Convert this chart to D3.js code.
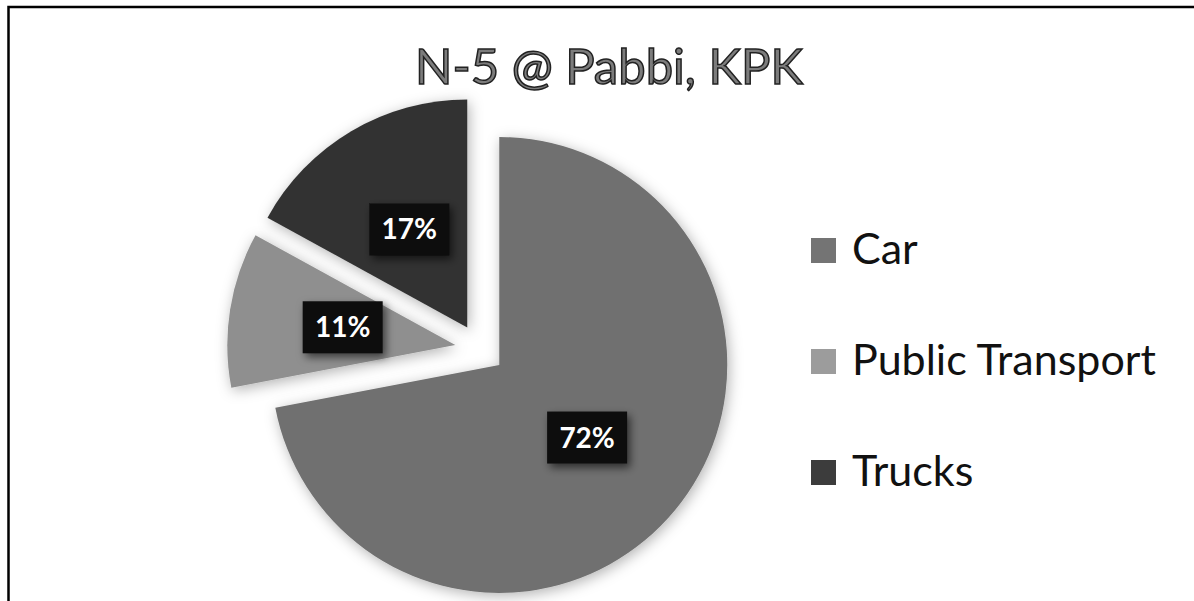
<!DOCTYPE html>
<html lang="en">
<head>
    <meta charset="UTF-8">
    <title>N-5 @ Pabbi, KPK</title>
    <script src="https://cdnjs.cloudflare.com/ajax/libs/d3/7.8.5/d3.min.js"></script>
    <style>
        body {
            margin: 0;
            background: #ffffff;
            font-family: 'Lato', 'Open Sans', sans-serif;
        }

        #chart {
            display: block;
        }

        .chart-title {
            font-size: 49px;
            fill: #7c7c7c;
            stroke: #222222;
            stroke-width: 1.5px;
            text-anchor: middle;
        }

        .slice-label {
            font-size: 28px;
            font-weight: 700;
            fill: #ffffff;
            text-anchor: middle;
        }

        .legend-label {
            font-size: 43px;
            fill: #111111;
        }
    </style>
</head>
<body>
    <svg id="chart" width="1194" height="601"></svg>

    <script>
        // chart data
        const categories = ['Car', 'Public Transport', 'Trucks'];
        const shares = [72, 11, 17];
        const sliceColors = ['#707070', '#8f8f8f', '#333333'];
        const legendColors = ['#747474', '#9c9c9c', '#3c3c3c'];
        const titleText = 'N-5 @ Pabbi, KPK';

        const svg = d3.select('#chart');

        const centerX = 480;
        const centerY = 349;
        const radius = 228;
        const explode = 25; // every slice is pulled out a bit

        const defs = svg.append('defs');

        // soft halo round the slices
        defs.append('filter')
            .attr('id', 'slice-shadow')
            .attr('x', '-20%').attr('y', '-20%')
            .attr('width', '140%').attr('height', '140%')
            .append('feDropShadow')
            .attr('dx', 2).attr('dy', 3)
            .attr('stdDeviation', 7)
            .attr('flood-color', '#000')
            .attr('flood-opacity', 0.3);

        defs.append('filter')
            .attr('id', 'box-shadow')
            .attr('x', '-30%').attr('y', '-30%')
            .attr('width', '160%').attr('height', '160%')
            .append('feDropShadow')
            .attr('dx', 3).attr('dy', 4)
            .attr('stdDeviation', 4)
            .attr('flood-color', '#000')
            .attr('flood-opacity', 0.6);

        // frame: only the top and left edges fall inside the picture
        svg.append('rect')
            .attr('x', 8.5)
            .attr('y', 7)
            .attr('width', 1300)
            .attr('height', 700)
            .attr('fill', 'none')
            .attr('stroke', '#000')
            .attr('stroke-width', 2.5);

        svg.append('text')
            .attr('class', 'chart-title')
            .attr('x', 609)
            .attr('y', 84)
            .text(titleText);

        const pie = d3.pie().sort(null).value(d => d);
        const arcs = pie(shares);

        const arc = d3.arc()
            .innerRadius(0)
            .outerRadius(radius);

        const pieGroup = svg.append('g')
            .attr('transform', `translate(${centerX},${centerY})`);

        const slices = pieGroup.selectAll('g.slice')
            .data(arcs)
            .join('g')
            .attr('class', 'slice')
            .attr('transform', d => {
                const mid = (d.startAngle + d.endAngle) / 2;
                return `translate(${Math.sin(mid) * explode},${-Math.cos(mid) * explode})`;
            });

        slices.append('path')
            .attr('d', arc)
            .attr('fill', (d, i) => sliceColors[i])
            .attr('filter', 'url(#slice-shadow)');

        // percentage labels in dark boxes
        const labels = slices.append('g')
            .attr('transform', d => `translate(${arc.centroid(d)})`);

        labels.append('rect')
            .attr('x', -40)
            .attr('y', -26)
            .attr('width', 80)
            .attr('height', 52)
            .attr('fill', '#0e0e0e')
            .attr('filter', 'url(#box-shadow)');

        labels.append('text')
            .attr('class', 'slice-label')
            .attr('y', 10)
            .text(d => `${d.data}%`);

        // legend
        const legendY = d3.scalePoint()
            .domain(categories)
            .range([264, 486]);

        const legend = svg.append('g')
            .selectAll('g')
            .data(categories)
            .join('g')
            .attr('transform', d => `translate(811,${legendY(d)})`);

        legend.append('rect')
            .attr('x', 0)
            .attr('y', -26)
            .attr('width', 25)
            .attr('height', 25)
            .attr('fill', (d, i) => legendColors[i]);

        legend.append('text')
            .attr('class', 'legend-label')
            .attr('x', 41)
            .attr('y', 0)
            .text(d => d);
    </script>
</body>
</html>
